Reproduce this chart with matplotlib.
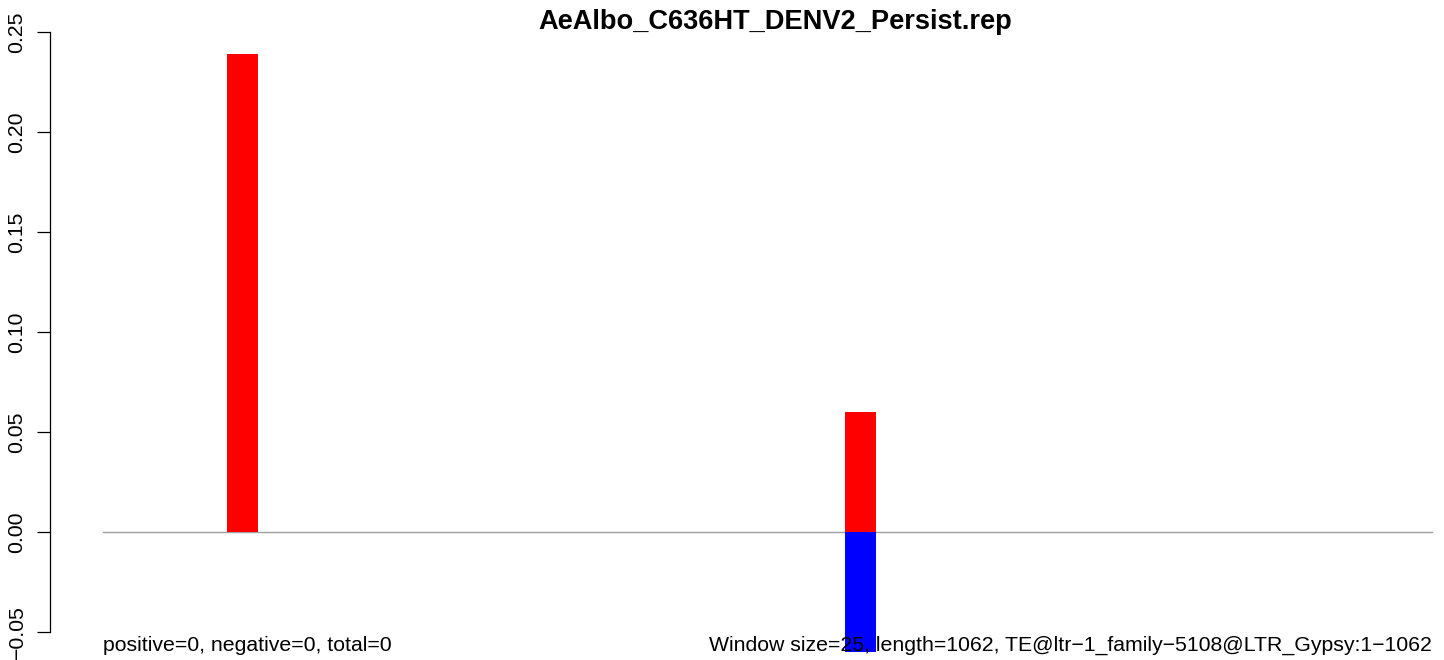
import matplotlib
matplotlib.use("Agg")
import matplotlib.pyplot as plt

plt.rcParams['font.family'] = ['Liberation Sans', 'DejaVu Sans']

# data
seq_length = 1062
window = 25
win_start = [99, 593]
pos_vals = [0.239, 0.060]
neg_vals = [0.0, -0.060]

y_ticks = [-0.05, 0.00, 0.05, 0.10, 0.15, 0.20, 0.25]
y_labels = ["\u22120.05", "0.00", "0.05", "0.10", "0.15", "0.20", "0.25"]

title = "AeAlbo_C636HT_DENV2_Persist.rep"
left_note = "positive=0, negative=0, total=0"
right_note = ("Window size=25, length=1062, "
              "TE@ltr\u22121_family\u22125108@LTR_Gypsy:1\u22121062")

W, H = 1444, 660
fig = plt.figure(figsize=(W / 100, H / 100), dpi=100)
# plot region runs past the right edge, like the R device did
ax = fig.add_axes([50 / W, 4 / H, 1435 / W, 648 / H])

pad = 0.04 * seq_length
ax.set_xlim(-pad, seq_length + pad)
ax.set_ylim(-0.062, 0.262)

ax.plot([0, seq_length], [0, 0], color='#A0A0A0', lw=1.0, zorder=1)
ax.bar(win_start, pos_vals, width=window, align='edge', color='red', zorder=2)
ax.bar(win_start, neg_vals, width=window, align='edge', color='blue', zorder=2)

ax.text(0, -0.0595, left_note, ha='left', va='baseline', fontsize=15.3, zorder=3)
ax.text(seq_length, -0.0595, right_note, ha='right', va='baseline', fontsize=15.3, zorder=3)

for s in ['top', 'right', 'bottom']:
    ax.spines[s].set_visible(False)
ax.spines['left'].set_bounds(-0.05, 0.25)
ax.spines['left'].set_linewidth(0.9)
ax.set_xticks([])
ax.set_yticks(y_ticks)
ax.set_yticklabels(y_labels)
ax.tick_params(axis='y', length=9.4, width=0.9, pad=7.5, labelsize=15.3)
plt.setp(ax.get_yticklabels(), rotation=90, va='center')

fig.text(775 / W, 1 - 29 / H, title, ha='center', va='baseline',
         fontsize=19.6, fontweight='bold')

fig.savefig("out.png", dpi=100)
